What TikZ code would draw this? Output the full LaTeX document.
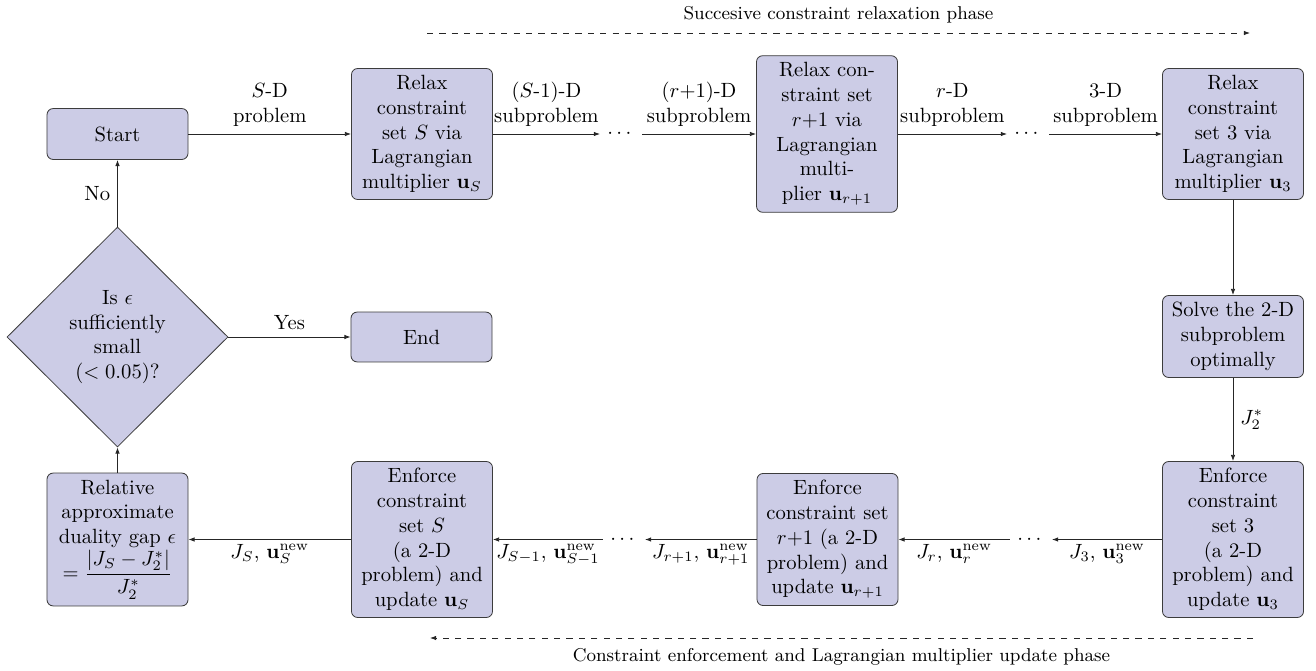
\documentclass[tikz,border=0pt]{standalone}
\usepackage{amsmath}
\usetikzlibrary{shapes.geometric,arrows.meta}
\definecolor{boxfill}{RGB}{204,204,230}
\definecolor{boxline}{RGB}{60,60,60}
\begin{document}
\begin{tikzpicture}[x=0.485pt,y=-0.485pt,
  procbox/.style={draw=boxline, fill=boxfill, rounded corners=3pt, align=center, minimum width=68.4pt, inner sep=3.33pt},
  decision/.style={draw=boxline, fill=boxfill, shape=diamond, align=center, minimum width=107.2pt, minimum height=106.7pt, inner sep=0pt},
  dotsnode/.style={inner sep=3.33pt},
  arr/.style={draw=black!85, -{Latex[length=3pt,width=2.2pt]}},
  lab/.style={align=center},
  phase/.style={font=\small}]
\useasboundingbox (0,0) rectangle (1316,671);

% top row
\node[procbox, minimum height=24.7pt] (start) at (117.5,134) {Start};
\node[procbox] (rs) at (422,134) {Relax\\constraint\\set $S$ via\\Lagrangian\\multiplier $\mathbf{u}_S$};
\node[dotsnode] (d1) at (621,134) {$\cdots$};
\node[procbox] (rr) at (827,134) {Relax con-\\straint set\\$r$+1 via\\Lagrangian\\multi-\\plier $\mathbf{u}_{r+1}$};
\node[dotsnode] (d2) at (1028,134) {$\cdots$};
\node[procbox] (r3) at (1233,134) {Relax\\constraint\\set 3 via\\Lagrangian\\multiplier $\mathbf{u}_3$};

% right column
\node[procbox] (solve) at (1233,336.5) {Solve the 2-D\\subproblem\\optimally};

% bottom row
\node[procbox] (e3) at (1233,539.5) {Enforce\\constraint\\set 3\\(a 2-D\\problem) and\\update $\mathbf{u}_3$};
\node[dotsnode] (d3) at (1031,539.5) {$\cdots$};
\node[procbox] (er) at (827.5,539.5) {Enforce\\constraint set\\$r$+1 (a 2-D\\problem) and\\update $\mathbf{u}_{r+1}$};
\node[dotsnode] (d4) at (624,539.5) {$\cdots$};
\node[procbox] (es) at (422,539.5) {Enforce\\constraint\\set $S$\\(a 2-D\\problem) and\\update $\mathbf{u}_S$};
\node[procbox] (rel) at (117.5,539.5) {Relative\\approximate\\duality gap $\epsilon$\\$=\dfrac{|J_S-J_2^*|}{J_2^*}$};

% left column
\node[decision] (dec) at (117.5,337) {Is $\epsilon$\\sufficiently\\small\\$(<0.05)$?};
\node[procbox, minimum height=24.2pt] (end) at (421.5,337) {End};

% top arrows
\draw[arr] (start) -- node[above, lab]{$S$-D\\problem} (rs);
\draw[arr] (rs) -- node[above, lab]{($S$-1)-D\\subproblem} (d1);
\draw[arr] (d1) -- node[above, lab]{($r$+1)-D\\subproblem} (rr);
\draw[arr] (rr) -- node[above, lab]{$r$-D\\subproblem} (d2);
\draw[arr] (d2) -- node[above, lab]{3-D\\subproblem} (r3);

% right column arrows
\draw[arr] (r3) -- (solve);
\draw[arr] (solve) -- node[right]{$J_2^*$} (e3);

% bottom arrows
\draw[arr] (e3) -- node[below, inner sep=2pt]{$J_3$, $\mathbf{u}_3^{\mathrm{new}}$} (d3);
\draw[arr] (d3) -- node[below, inner sep=2pt]{$J_r$, $\mathbf{u}_r^{\mathrm{new}}$} (er);
\draw[arr] (er) -- node[below, inner sep=2pt]{$J_{r+1}$, $\mathbf{u}_{r+1}^{\mathrm{new}}$} (d4);
\draw[arr] (d4) -- node[below, inner sep=2pt]{$J_{S-1}$, $\mathbf{u}_{S-1}^{\mathrm{new}}$} (es);
\draw[arr] (es) -- node[below, inner sep=2pt]{$J_S$, $\mathbf{u}_S^{\mathrm{new}}$} (rel);

% left column arrows
\draw[arr] (rel) -- (dec);
\draw[arr] (dec) -- node[left]{No} (start);
\draw[arr] (dec) -- node[above]{Yes} (end);

% phase arrows
\coordinate (p1s) at (427,33);
\coordinate (p1e) at (1250,33);
\draw[arr, dashed] (p1s) -- node[above, phase, yshift=1.5pt]{Succesive constraint relaxation phase} (p1e);
\coordinate (p2s) at (1253,638);
\coordinate (p2e) at (430,638);
\draw[arr, dashed] (p2s) -- node[below, phase, yshift=-1.5pt]{Constraint enforcement and Lagrangian multiplier update phase} (p2e);
\end{tikzpicture}
\end{document}
